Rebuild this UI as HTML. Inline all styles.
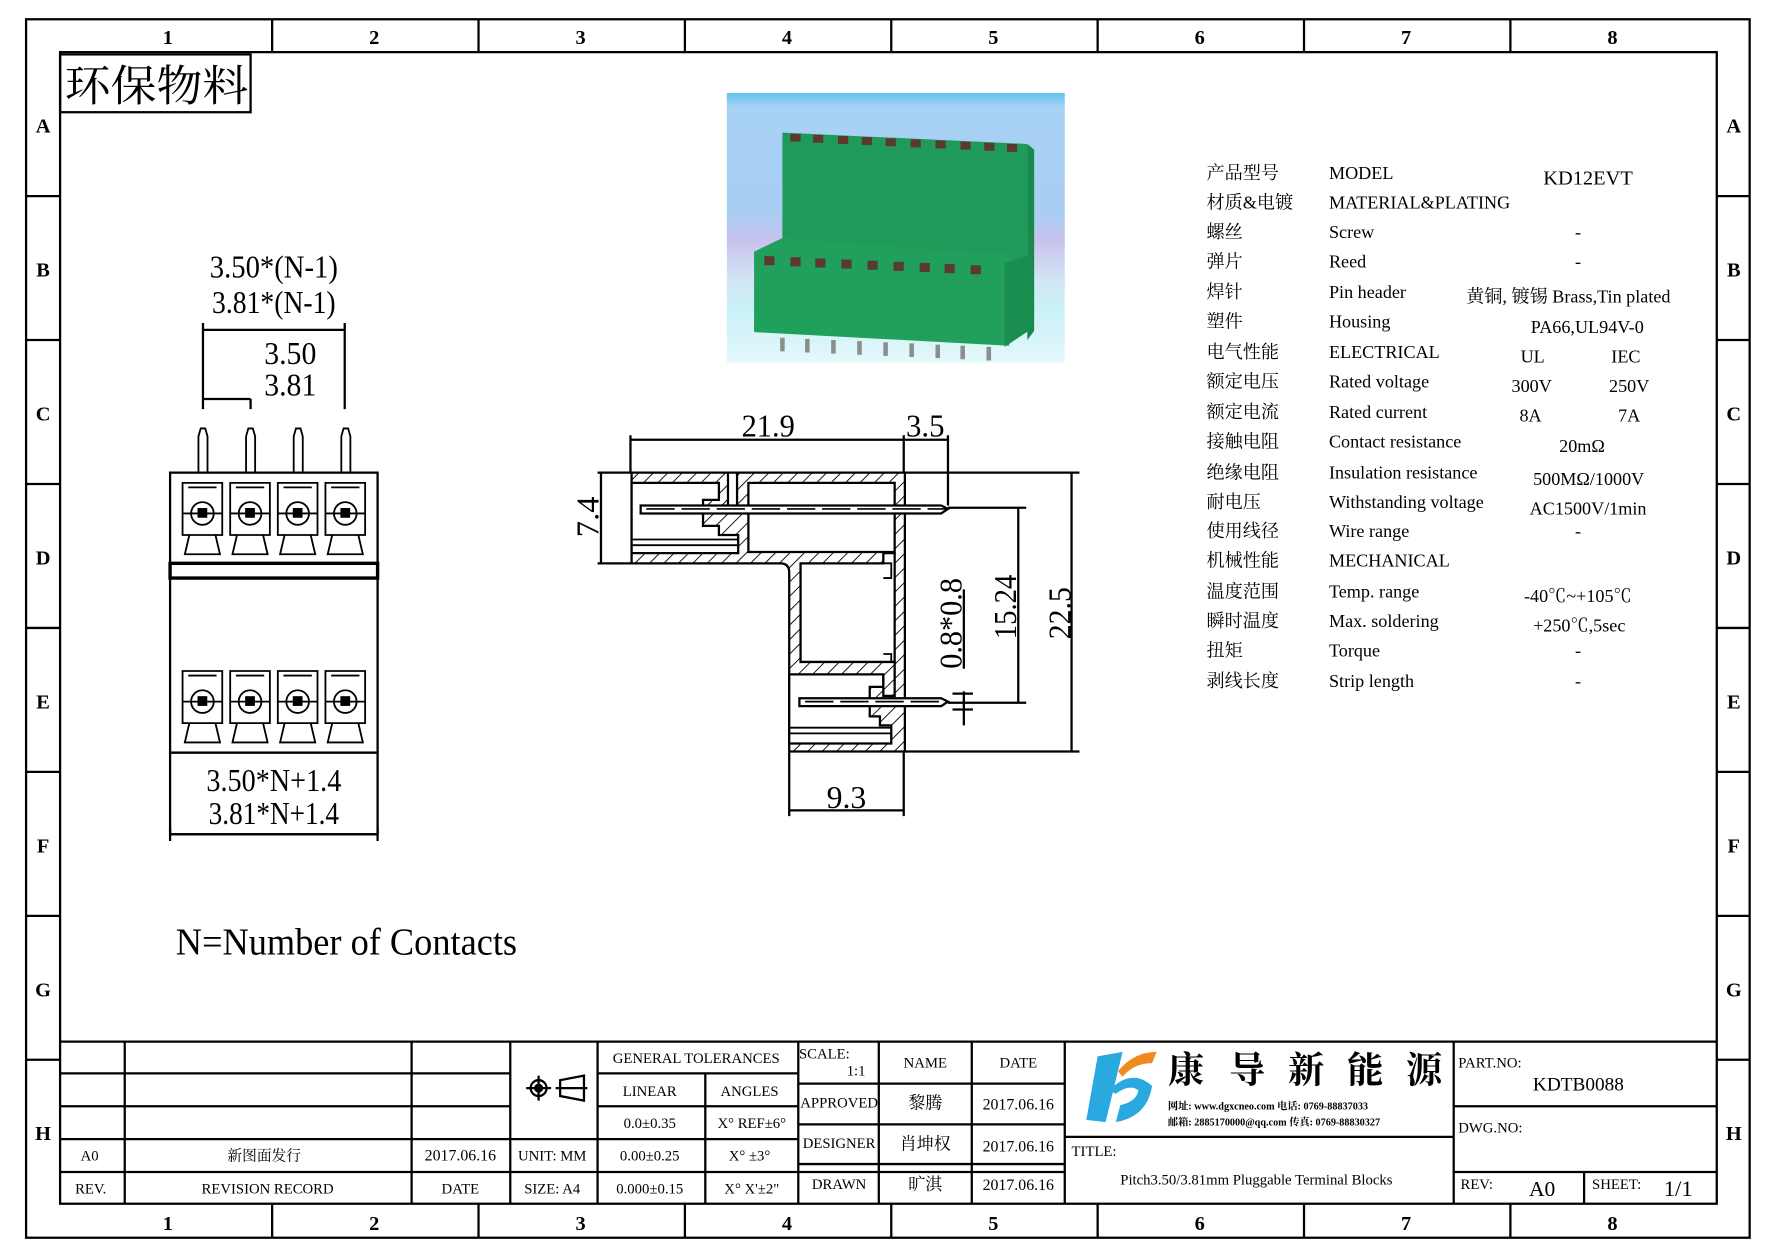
<!DOCTYPE html>
<html><head><meta charset="utf-8"><style>
html,body{margin:0;padding:0;background:#fff;}
svg{display:block;}
text{font-family:"Liberation Serif","Noto Serif CJK SC","Noto Sans CJK SC",serif;fill:#000;}
.b{font-family:"Liberation Sans","Noto Sans CJK SC",sans-serif;font-weight:bold;}
.t{font-size:16px;}
.s{font-size:13px;}
</style></head><body>
<svg width="1778" height="1257" viewBox="0 0 1568 1109" preserveAspectRatio="none" xmlns="http://www.w3.org/2000/svg">
<defs>
<pattern id="h" patternUnits="userSpaceOnUse" width="9" height="9" patternTransform="rotate(45)">
<rect width="9" height="9" fill="#fff"/><line x1="0" y1="0" x2="0" y2="9" stroke="#000" stroke-width="1.6"/></pattern>
<linearGradient id="sky" x1="0" y1="0" x2="0" y2="1">
<stop offset="0" stop-color="#5cc3ee"/><stop offset="0.05" stop-color="#a7d2f5"/><stop offset="0.45" stop-color="#a9cdf3"/><stop offset="0.55" stop-color="#c9c3ee"/><stop offset="0.7" stop-color="#d3e6f3"/><stop offset="0.8" stop-color="#c8f1f8"/><stop offset="1" stop-color="#e4f8fb"/></linearGradient>
</defs>
<rect width="1568" height="1109" fill="#fff"/>
<g fill="none" stroke="#000" stroke-width="2">
<rect x="23" y="17" width="1520" height="1075"/>
<rect x="53" y="46" width="1461" height="1016"/>
<path d="M240 17V46M422 17V46M604 17V46M786 17V46M968 17V46M1150 17V46M1332 17V46"/>
<path d="M240 1062V1092M422 1062V1092M604 1062V1092M786 1062V1092M968 1062V1092M1150 1062V1092M1332 1062V1092"/>
<path d="M23 173H53M23 300H53M23 427H53M23 554H53M23 681H53M23 808H53M23 935H53"/>
<path d="M1514 173H1543M1514 300H1543M1514 427H1543M1514 554H1543M1514 681H1543M1514 808H1543M1514 935H1543"/>
</g>
<g class="b" font-size="18" text-anchor="middle">
<text x="148" y="39">1</text><text x="330" y="39">2</text><text x="512" y="39">3</text><text x="694" y="39">4</text><text x="876" y="39">5</text><text x="1058" y="39">6</text><text x="1240" y="39">7</text><text x="1422" y="39">8</text>
<text x="148" y="1085">1</text><text x="330" y="1085">2</text><text x="512" y="1085">3</text><text x="694" y="1085">4</text><text x="876" y="1085">5</text><text x="1058" y="1085">6</text><text x="1240" y="1085">7</text><text x="1422" y="1085">8</text>
<text x="38" y="117">A</text><text x="38" y="244">B</text><text x="38" y="371">C</text><text x="38" y="498">D</text><text x="38" y="625">E</text><text x="38" y="752">F</text><text x="38" y="879">G</text><text x="38" y="1006">H</text>
<text x="1529" y="117">A</text><text x="1529" y="244">B</text><text x="1529" y="371">C</text><text x="1529" y="498">D</text><text x="1529" y="625">E</text><text x="1529" y="752">F</text><text x="1529" y="879">G</text><text x="1529" y="1006">H</text>
</g>
<rect x="53" y="48" width="168" height="51" fill="none" stroke="#000" stroke-width="2"/>
<text x="57" y="89" font-size="38" textLength="162" lengthAdjust="spacingAndGlyphs">环保物料</text>

<!-- photo -->
<rect x="641" y="82" width="298" height="238" fill="url(#sky)"/>
<polygon points="690,117 906,127 906,240 690,240" fill="#1f9a58"/>
<polygon points="906,127 912,132 912,292 906,300" fill="#178a4c"/>
<polygon points="665,222 690,210 890,225 890,305 665,293" fill="#21a05c"/>
<polygon points="886,232 910,225 910,290 886,306" fill="#1a8e50"/>
<g fill="#5a3a30">
<rect x="697" y="118" width="9" height="7"/><rect x="717" y="119" width="9" height="7"/><rect x="739" y="120" width="9" height="7"/><rect x="760" y="121" width="9" height="7"/><rect x="781" y="122" width="9" height="7"/><rect x="803" y="123" width="9" height="7"/><rect x="825" y="124" width="9" height="7"/><rect x="847" y="125" width="9" height="7"/><rect x="868" y="126" width="9" height="7"/><rect x="888" y="127" width="9" height="7"/>
<rect x="674" y="226" width="9" height="8"/><rect x="697" y="227" width="9" height="8"/><rect x="719" y="228" width="9" height="8"/><rect x="742" y="229" width="9" height="8"/><rect x="765" y="230" width="9" height="8"/><rect x="788" y="231" width="9" height="8"/><rect x="811" y="232" width="9" height="8"/><rect x="833" y="233" width="9" height="8"/><rect x="856" y="234" width="9" height="8"/>
</g>
<g stroke="#8a8f8a" stroke-width="4">
<path d="M690 298V310M712 299V311M735 300V312M758 301V313M781 302V314M804 303V315M827 304V316M849 305V317M872 306V318"/></g>

<!-- left drawing -->
<g fill="none" stroke="#000" stroke-width="2">
<rect x="150" y="417" width="183" height="80"/>
<rect x="150" y="497" width="183" height="13" stroke-width="3"/>
<rect x="150" y="510" width="183" height="154"/>
<rect x="150" y="664" width="183" height="72"/>
<path d="M179 361V285M304 361V285M179 291H304M221 361V352M179 352H221"/>
<path d="M150 736H333M150 730V742M333 730V742"/>
</g>
<g stroke="#000" stroke-width="1.6" fill="none">
<g id="pin"><path d="M175 417V385L177 378H181L183 385V417"/></g>
<use href="#pin" x="42"/><use href="#pin" x="84"/><use href="#pin" x="126"/>
<g id="cell">
<path d="M161 426H196V472H161Z M166 430H191"/>
<circle cx="178.5" cy="453" r="10"/>
<rect x="175" y="449" width="7" height="7" fill="#000"/>
<path d="M161 453H196 M167 472L163 489H194L190 472"/>
</g>
<use href="#cell" x="42"/><use href="#cell" x="84"/><use href="#cell" x="126"/>
<use href="#cell" y="166"/><use href="#cell" x="42" y="166"/><use href="#cell" x="84" y="166"/><use href="#cell" x="126" y="166"/>
</g>
<g font-size="28">
<text x="185" y="245" textLength="113" lengthAdjust="spacingAndGlyphs">3.50*(N-1)</text>
<text x="187" y="276" textLength="109" lengthAdjust="spacingAndGlyphs">3.81*(N-1)</text>
<text x="233" y="321" textLength="46" lengthAdjust="spacingAndGlyphs">3.50</text>
<text x="233" y="349" textLength="46" lengthAdjust="spacingAndGlyphs">3.81</text>
<text x="182" y="698" textLength="119" lengthAdjust="spacingAndGlyphs">3.50*N+1.4</text>
<text x="184" y="727" textLength="115" lengthAdjust="spacingAndGlyphs">3.81*N+1.4</text>
<text x="155" y="842" font-size="34" textLength="301" lengthAdjust="spacingAndGlyphs">N=Number of Contacts</text>
</g>

<!-- cross section -->
<g stroke="#000" stroke-width="2" stroke-linejoin="miter">
<path d="M557 417H798V663H696V505Q696 497 688 497H557Z" fill="url(#h)"/>
<path d="M557 426H634V441H620V464H634V472H651V488H557Z" fill="#fff"/>
<path d="M642 417H650V447H642Z" fill="#fff"/>
<path d="M660 426H789V487H660Z" fill="#fff"/>
<path d="M706 497H779V488H789V584H706Z" fill="#fff"/>
<path d="M696 595H779V606H767V632H776V640H786V656H696Z" fill="#fff"/>
<path d="M779 595V614H789V584" fill="none"/>
</g>
<g fill="none" stroke="#000" stroke-width="1.6">
<path d="M557 476H651M557 481H651M696 642H786M696 647H786"/>
<path d="M779 497H786V510H779M779 577H786V584"/>
</g>
<g fill="none" stroke="#000" stroke-width="2">
<path d="M565 446H830L836 449L830 453H565Z" fill="#fff"/>
<path d="M705 616H830L836 619L830 623H705Z" fill="#fff"/>
<path d="M570 449H836M710 619H836" stroke-dasharray="25 6" stroke-width="1.5"/>
<path d="M797 417H952M797 663H952M945 417V663"/>
<path d="M556 417V384M797 417V384M836 446V384M556 388H836"/>
<path d="M836 448H905M836 620H905M898 448V620"/>
<path d="M850 520V590M850 610V640M840 612H858M840 626H858"/>
<path d="M530 417V497M527 417H556M527 497H556"/>
<path d="M696 664V720M797 664V720M696 715H797"/>
</g>
<g font-size="28">
<text x="654" y="385" textLength="47" lengthAdjust="spacingAndGlyphs">21.9</text>
<text x="799" y="385" textLength="34" lengthAdjust="spacingAndGlyphs">3.5</text>
<text x="729" y="713" textLength="35" lengthAdjust="spacingAndGlyphs">9.3</text>
<text transform="translate(528,474) rotate(-90)" textLength="36" lengthAdjust="spacingAndGlyphs">7.4</text>
<text transform="translate(848,590) rotate(-90)" textLength="80" lengthAdjust="spacingAndGlyphs">0.8*0.8</text>
<text transform="translate(896,564) rotate(-90)" textLength="57" lengthAdjust="spacingAndGlyphs">15.24</text>
<text transform="translate(944,564) rotate(-90)" textLength="46" lengthAdjust="spacingAndGlyphs">22.5</text>
</g>

<!-- spec table -->
<g class="t">
<text x="1064" y="158">产品型号</text><text x="1172" y="158">MODEL</text><text x="1361" y="163" font-size="18">KD12EVT</text>
<text x="1064" y="184">材质&amp;电镀</text><text x="1172" y="184">MATERIAL&amp;PLATING</text>
<text x="1064" y="210">螺丝</text><text x="1172" y="210">Screw</text><text x="1389" y="210">-</text>
<text x="1064" y="236">弹片</text><text x="1172" y="236">Reed</text><text x="1389" y="236">-</text>
<text x="1064" y="263">焊针</text><text x="1172" y="263">Pin header</text><text x="1293" y="267">黄铜, 镀锡 Brass,Tin plated</text>
<text x="1064" y="289">塑件</text><text x="1172" y="289">Housing</text><text x="1350" y="294">PA66,UL94V-0</text>
<text x="1064" y="316">电气性能</text><text x="1172" y="316">ELECTRICAL</text><text x="1341" y="320">UL</text><text x="1421" y="320">IEC</text>
<text x="1064" y="342">额定电压</text><text x="1172" y="342">Rated voltage</text><text x="1333" y="346">300V</text><text x="1419" y="346">250V</text>
<text x="1064" y="369">额定电流</text><text x="1172" y="369">Rated current</text><text x="1340" y="372">8A</text><text x="1427" y="372">7A</text>
<text x="1064" y="395">接触电阻</text><text x="1172" y="395">Contact resistance</text><text x="1375" y="399">20mΩ</text>
<text x="1064" y="422">绝缘电阻</text><text x="1172" y="422">Insulation resistance</text><text x="1352" y="428">500MΩ/1000V</text>
<text x="1064" y="448">耐电压</text><text x="1172" y="448">Withstanding voltage</text><text x="1349" y="454">AC1500V/1min</text>
<text x="1064" y="474">使用线径</text><text x="1172" y="474">Wire range</text><text x="1389" y="474">-</text>
<text x="1064" y="500">机械性能</text><text x="1172" y="500">MECHANICAL</text>
<text x="1064" y="527">温度范围</text><text x="1172" y="527">Temp. range</text><text x="1344" y="531">-40℃~+105℃</text>
<text x="1064" y="553">瞬时温度</text><text x="1172" y="553">Max. soldering</text><text x="1352" y="557">+250℃,5sec</text>
<text x="1064" y="579">扭矩</text><text x="1172" y="579">Torque</text><text x="1389" y="579">-</text>
<text x="1064" y="606">剥线长度</text><text x="1172" y="606">Strip length</text><text x="1389" y="606">-</text>
</g>

<!-- title block -->
<g fill="none" stroke="#000" stroke-width="2">
<path d="M53 919H1514"/>
<path d="M53 947H450M53 976H450M53 1005H704M53 1034H939"/>
<path d="M110 919V1062M363 919V1062M450 919V1062M527 919V1062M704 919V1062"/>
<path d="M527 947H704M527 976H704M622 947V1062"/>
<path d="M704 956H939M704 992H939M704 1027H939M775 919V1062M857 919V1062M939 919V1062"/>
<path d="M939 1003H1282M1282 919V1062M1282 976H1514M1282 1034H1514M1397 1034V1062"/>
</g>
<g class="s" text-anchor="middle">
<text x="79" y="1024">A0</text><text x="233" y="1024">新图面发行</text><text x="406" y="1024" font-size="14">2017.06.16</text>
<text x="80" y="1053">REV.</text><text x="236" y="1053">REVISION RECORD</text><text x="406" y="1053">DATE</text>
<text x="487" y="1024">UNIT: MM</text><text x="487" y="1053">SIZE: A4</text>
<text x="614" y="938">GENERAL TOLERANCES</text>
<text x="573" y="967">LINEAR</text><text x="661" y="967">ANGLES</text>
<text x="573" y="995">0.0±0.35</text><text x="663" y="995">X° REF±6°</text>
<text x="573" y="1024">0.00±0.25</text><text x="661" y="1024">X° ±3°</text>
<text x="573" y="1053">0.000±0.15</text><text x="663" y="1053">X° X'±2"</text>
<text x="727" y="934">SCALE:</text><text x="755" y="949">1:1</text>
<text x="816" y="942">NAME</text><text x="898" y="942">DATE</text>
<text x="740" y="977">APPROVED</text><text x="816" y="978" font-size="15">黎腾</text><text x="898" y="979" font-size="14">2017.06.16</text>
<text x="740" y="1013">DESIGNER</text><text x="816" y="1014" font-size="15">肖坤权</text><text x="898" y="1016" font-size="14">2017.06.16</text>
<text x="740" y="1049">DRAWN</text><text x="816" y="1050" font-size="15">旷淇</text><text x="898" y="1050" font-size="14">2017.06.16</text>
<text x="1108" y="1045">Pitch3.50/3.81mm Pluggable Terminal Blocks</text>
<text x="1392" y="962" font-size="17">KDTB0088</text>
<text x="1360" y="1055" font-size="19">A0</text><text x="1480" y="1055" font-size="20">1/1</text>
</g>
<g class="s">
<text x="945" y="1020">TITLE:</text><text x="1286" y="942">PART.NO:</text><text x="1286" y="999">DWG.NO:</text>
<text x="1288" y="1049">REV:</text><text x="1404" y="1049">SHEET:</text>
</g>
<g fill="none" stroke="#000" stroke-width="2">
<circle cx="475" cy="960" r="7"/><circle cx="475" cy="960" r="3" fill="#000"/><path d="M464 960H486M475 949V971"/>
<path d="M494 953L515 949V971L494 967Z M490 960H518"/>
</g>
<path d="M968 932L990 928L975 990L958 988Z" fill="#29a9e0"/>
<path d="M978 962Q998 942 1016 958Q1012 985 984 990L988 975Q1002 972 1004 962Q996 956 984 965Z" fill="#29a9e0"/>
<path d="M986 945Q1000 928 1020 928L1016 938Q1000 938 990 950Z" fill="#f08a1c"/>
<g font-family="'Noto Sans CJK SC',sans-serif" font-weight="bold" font-size="32">
<text x="1030" y="955">康</text><text x="1084" y="955">导</text><text x="1136" y="955">新</text><text x="1188" y="955">能</text><text x="1240" y="955">源</text></g>
<g class="b" font-size="9">
<text x="1030" y="979">网址: www.dgxcneo.com  电话: 0769-88837033</text>
<text x="1030" y="993">邮箱: 2885170000@qq.com 传真: 0769-88830327</text></g>
</svg>
</body></html>
